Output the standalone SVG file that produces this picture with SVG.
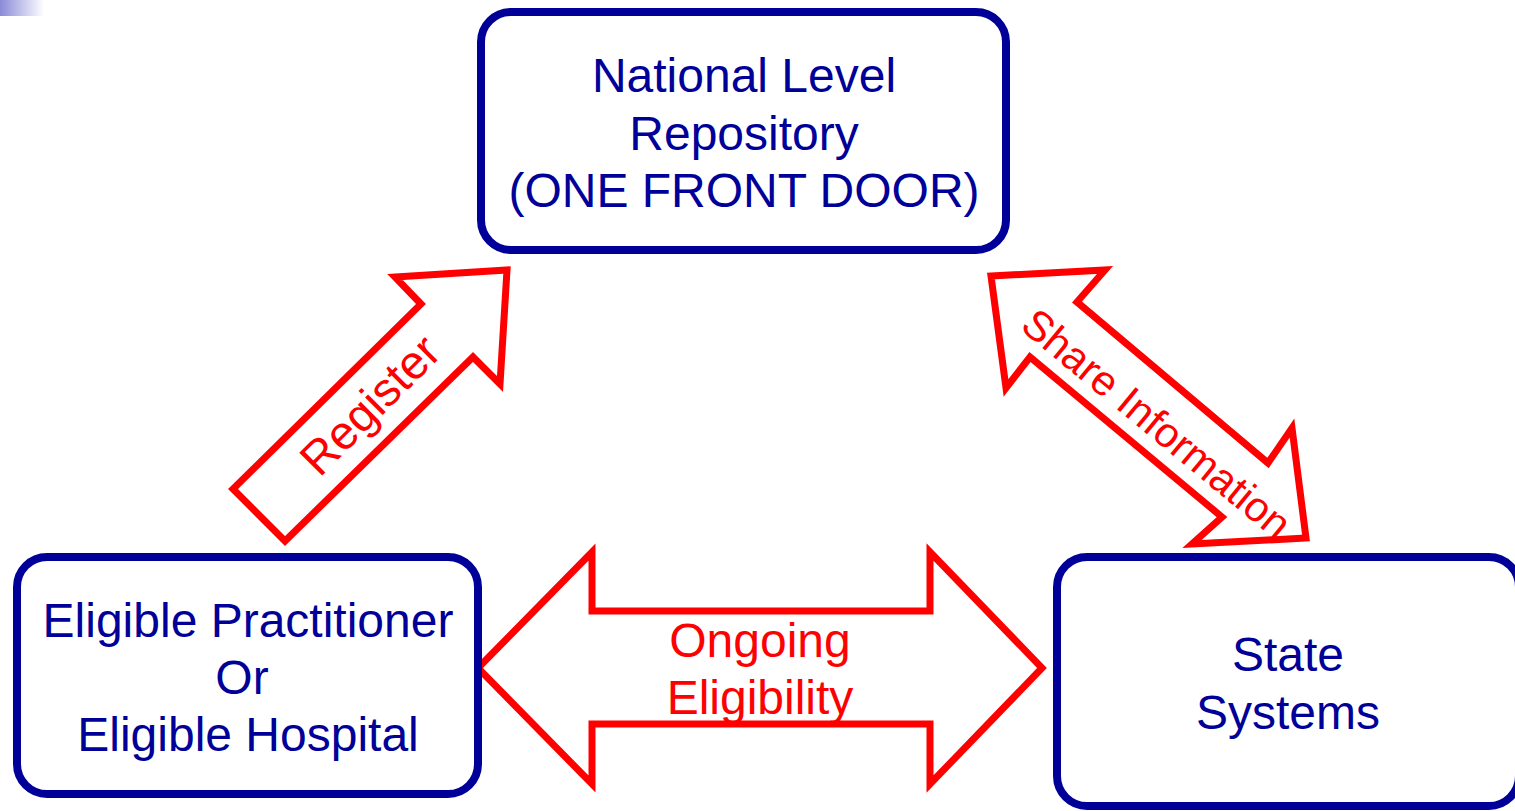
<svg xmlns="http://www.w3.org/2000/svg" width="1515" height="811" viewBox="0 0 1515 811">
<defs>
<linearGradient id="corner" x1="0" y1="0" x2="1" y2="0">
<stop offset="0" stop-color="#8a8ad8"/>
<stop offset="1" stop-color="#ffffff"/>
</linearGradient>
</defs>
<style>
.box{fill:#fff;stroke:#000099;stroke-width:8}
.ntext{font-family:"Liberation Sans",Arial,sans-serif;font-size:48px;fill:#000099;text-anchor:middle}
.arrow{fill:#fff;stroke:#ff0000;stroke-width:7;stroke-linejoin:miter}
.atext{font-family:"Liberation Sans",Arial,sans-serif;fill:#ff0000;text-anchor:middle}
</style>
<rect width="1515" height="811" fill="#fff"/>
<rect x="0" y="0" width="44" height="16" fill="url(#corner)"/>
<g id="connectors">
<g id="register">
<polygon class="arrow" points="507,270 500,384 473,357 285,541 233,489 421,304 395,277"/>
<text class="atext" font-size="47" transform="translate(370,405) rotate(-45)" dy="16">Register</text>
</g>
<g id="share">
<polygon class="arrow" points="991,276 1105,270 1077,302 1268,463 1292,428 1306,538 1192,544 1222,517 1030,357 1006,388"/>
<text class="atext" font-size="42" transform="translate(1157,423) rotate(39.5)" dy="15">Share Information</text>
</g>
<g id="ongoing">
<polygon class="arrow" points="478,668 592,552 592,611 930,611 930,552 1042,668 930,784 930,724 592,724 592,784"/>
<text class="atext" font-size="48" x="760" y="657">Ongoing</text>
<text class="atext" font-size="48" x="760" y="714">Eligibility</text>
</g>
</g>
<g id="national">
<rect class="box" x="481" y="12" width="525" height="238" rx="30"/>
<text class="ntext" x="744" y="92">National Level</text>
<text class="ntext" x="744" y="150">Repository</text>
<text class="ntext" x="744" y="207">(ONE FRONT DOOR)</text>
</g>
<g id="practitioner">
<rect class="box" x="17" y="557" width="461" height="237" rx="30"/>
<text class="ntext" x="248" y="637">Eligible Practitioner</text>
<text class="ntext" x="242" y="694">Or</text>
<text class="ntext" x="248" y="751">Eligible Hospital</text>
</g>
<g id="state">
<rect class="box" x="1057" y="557" width="462" height="249" rx="30"/>
<text class="ntext" x="1288" y="671">State</text>
<text class="ntext" x="1288" y="729">Systems</text>
</g>
</svg>
